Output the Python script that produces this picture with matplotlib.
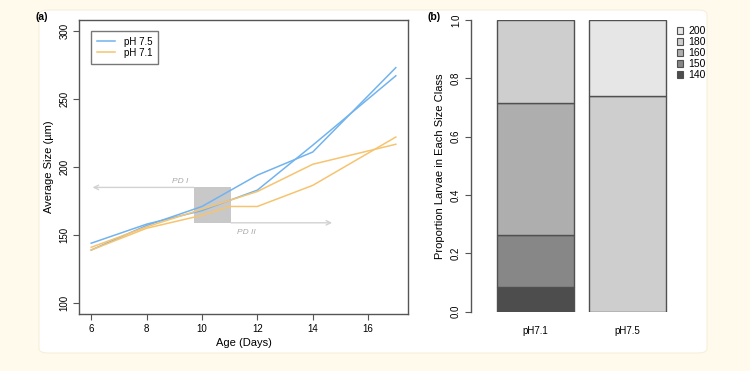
import matplotlib
matplotlib.use("Agg")
import matplotlib.pyplot as plt
from matplotlib.patches import FancyBboxPatch, Rectangle, Patch

plt.rcParams['font.family'] = ['Liberation Sans', 'DejaVu Sans']

# panel (a): average size over age, two replicates per pH
days_a = [6, 8, 10, 12, 14, 17]
ph75_rep1 = [144, 158, 168, 183, 216, 267]
ph75_rep2 = [139, 157, 171, 194, 211, 273]
days_b = [6, 8, 10, 11, 12, 14, 17]
ph71_rep1 = [139, 155, 164.5, 171, 171, 186.5, 222]
days_c = [6, 8, 10, 12, 14, 17]
ph71_rep2 = [141, 156, 169, 182, 202, 216.7]

pd_box = (9.7, 11.05, 159, 185)   # x0, x1, y0, y1
pd1_end = 6.05
pd2_end = 14.7

# panel (b): proportion per size class
groups = ["pH7.1", "pH7.5"]
size_classes = ["140", "150", "160", "180", "200"]
props = {
    "pH7.1": [0.083, 0.18, 0.454, 0.283, 0.0],
    "pH7.5": [0.0, 0.0, 0.0, 0.741, 0.259],
}
class_colors = ["#4d4d4d", "#878787", "#aeaeae", "#cecece", "#e6e6e6"]

blue = "#72b3ee"
orange = "#f6c470"
edge = "#555555"
W, H = 750, 371

fig = plt.figure(figsize=(7.5, 3.71), dpi=100)
fig.patch.set_facecolor("#fffaeb")
fig.patches.append(FancyBboxPatch((39 / W, 1 - 353 / H), (707 - 39) / W, (353 - 10) / H,
                                  boxstyle="round,pad=0,rounding_size=0.012",
                                  transform=fig.transFigure, facecolor="white",
                                  edgecolor="#f8efdc", lw=0.8, zorder=-5))

# ---- panel (a)
ax = fig.add_axes([79 / W, 1 - 314 / H, (408 - 79) / W, (314 - 20) / H])
ax.set_facecolor("none")
ax.add_patch(Rectangle((pd_box[0], pd_box[2]), pd_box[1] - pd_box[0], pd_box[3] - pd_box[2],
                       facecolor="#c8c8c8", edgecolor="none", zorder=1))
arrow = dict(arrowstyle="->", color="#d2d2d2", lw=1, mutation_scale=8, shrinkA=0, shrinkB=0)
ax.annotate("", xy=(pd1_end, pd_box[3]), xytext=(pd_box[0], pd_box[3]), arrowprops=arrow, zorder=1)
ax.annotate("", xy=(pd2_end, pd_box[2]), xytext=(pd_box[1], pd_box[2]), arrowprops=arrow, zorder=1)
ax.text(9.2, 189, "PD I", style="italic", color="#a8a8a8", fontsize=6, ha="center", va="center")
ax.text(11.6, 152, "PD II", style="italic", color="#a8a8a8", fontsize=6, ha="center", va="center")

l1, = ax.plot(days_a, ph75_rep1, color=blue, lw=1.1, zorder=2)
ax.plot(days_a, ph75_rep2, color=blue, lw=1.1, zorder=2)
l2, = ax.plot(days_b, ph71_rep1, color=orange, lw=1.1, zorder=2)
ax.plot(days_c, ph71_rep2, color=orange, lw=1.1, zorder=2)

ax.set_xlim(5.56, 17.44)
ax.set_ylim(92, 308)
ax.set_xticks(range(6, 17, 2))
ax.set_yticks(range(100, 301, 50))
ax.tick_params(labelsize=7, length=4, color=edge, width=0.8, pad=3)
for lab in ax.get_yticklabels():
    lab.set_rotation(90)
    lab.set_va("center")
for s in ax.spines.values():
    s.set_color(edge)
    s.set_linewidth(1)
ax.set_xlabel("Age (Days)", fontsize=8, labelpad=3)
ax.set_ylabel("Average Size (µm)", fontsize=8, labelpad=4)
leg = ax.legend([l1, l2], ["pH 7.5", "pH 7.1"], loc="upper left",
                bbox_to_anchor=((91 - 79) / 329, 1 - (31 - 20) / 294),
                fontsize=7, frameon=True, fancybox=False, handlelength=1.9,
                borderpad=0.6, labelspacing=0.1, handletextpad=0.9, borderaxespad=0)
leg.get_frame().set_edgecolor(edge)
leg.get_frame().set_linewidth(1)
fig.text(42 / W, 1 - 17 / H, "(a)", fontsize=7.5, fontweight="bold", ha="center", va="center")

# ---- panel (b)
bx = fig.add_axes([470.7 / W, 1 - 311.7 / H, (707 - 470.7) / W, (311.7 - 20) / H])
bx.set_facecolor("none")
xpos = [0.7, 1.9]
for g, x in zip(groups, xpos):
    bottom = 0
    for v, c in zip(props[g], class_colors):
        if v > 0:
            bx.bar(x, v, width=1, bottom=bottom, color=c, edgecolor="#505050", lw=1)
        bottom += v
bx.set_xlim(-0.147, 0.2 + (707 - 497.3) / 76.7)
bx.set_ylim(0, 1)
bx.set_xticks(xpos)
bx.set_xticklabels(groups)
bx.set_yticks([0, 0.2, 0.4, 0.6, 0.8, 1.0])
bx.set_yticklabels(["0.0", "0.2", "0.4", "0.6", "0.8", "1.0"])
for lab in bx.get_yticklabels():
    lab.set_rotation(90)
    lab.set_va("center")
bx.tick_params(axis="y", labelsize=7, length=4, color=edge, width=0.8, pad=3)
bx.tick_params(axis="x", labelsize=7, length=0, pad=10)
for k in ["top", "right", "bottom"]:
    bx.spines[k].set_visible(False)
bx.spines["left"].set_color(edge)
bx.spines["left"].set_linewidth(1)
bx.set_ylabel("Proportion Larvae in Each Size Class", fontsize=8, labelpad=4)
handles = [Patch(facecolor=c, edgecolor="#505050", lw=0.8) for c in class_colors[::-1]]
bx.legend(handles, size_classes[::-1], loc="upper left",
          bbox_to_anchor=((677 - 470.7) / (707 - 470.7), 1 - (26 - 20) / 291.7),
          frameon=False, fontsize=7.5, handlelength=0.6, handleheight=0.6,
          labelspacing=0.1, handletextpad=0.5, borderpad=0, borderaxespad=0)
fig.text(434 / W, 1 - 17 / H, "(b)", fontsize=7.5, fontweight="bold", ha="center", va="center")

fig.savefig("out.png", dpi=100, facecolor=fig.get_facecolor())
